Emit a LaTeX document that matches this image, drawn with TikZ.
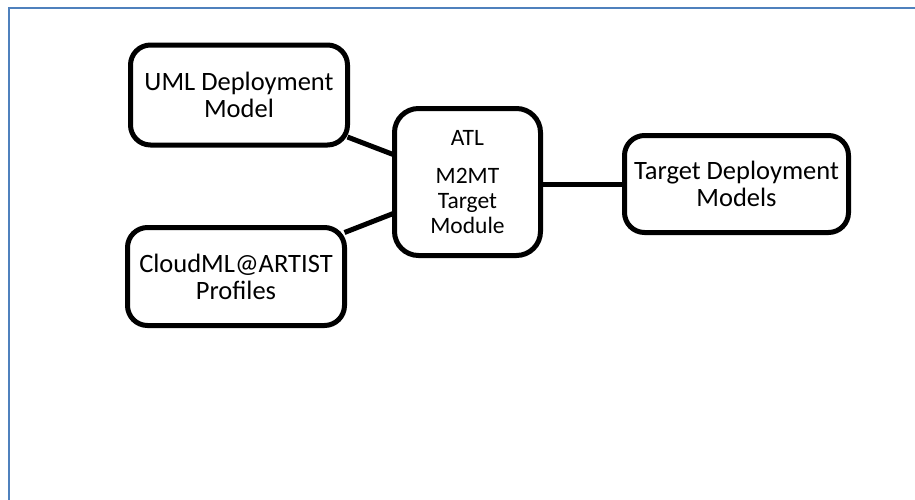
\documentclass[tikz,border=0pt]{standalone}
\usepackage{fontspec}
\setmainfont{Carlito}
\definecolor{frameblue}{RGB}{79,129,189}
\begin{document}
\begin{tikzpicture}[x=1pt,y=-1pt,
  modelbox/.style={draw=black, line width=5pt, rounded corners=20pt, fill=white,
    inner sep=0pt, outer sep=0pt, align=center,
    font=\fontsize{26.5}{27}\selectfont},
  link/.style={draw=black, line width=5pt}]
  \useasboundingbox (0,0) rectangle (915,499);
  % page frame, running off the right and bottom edges
  \draw[frameblue, line width=2.5pt] (9,8) rectangle (930,520);

  \node[modelbox, minimum width=217pt, minimum height=100pt] (uml) at (239,95)
    {UML Deployment\\Model};
  \node[modelbox, minimum width=217pt, minimum height=98pt] (cloud) at (236,276.5)
    {CloudML@ARTIST\\Profiles};
  \node[modelbox, rounded corners=24pt, minimum width=146pt, minimum height=147pt,
    font=\fontsize{23.5}{25}\selectfont] (atl) at (467.5,182)
    {ATL\\[13pt]M2MT\\Target\\Module};
  \node[modelbox, minimum width=224pt, minimum height=97pt] (target) at (736.5,184)
    {Target Deployment\\Models};

  \draw[link] ([yshift=-42pt]uml.east) -- ([yshift=27pt]atl.west);
  \draw[link] ([yshift=44pt]cloud.east) -- ([yshift=-31pt]atl.west);
  \draw[link] ([yshift=-2pt]atl.east) -- (target.west);
\end{tikzpicture}
\end{document}
